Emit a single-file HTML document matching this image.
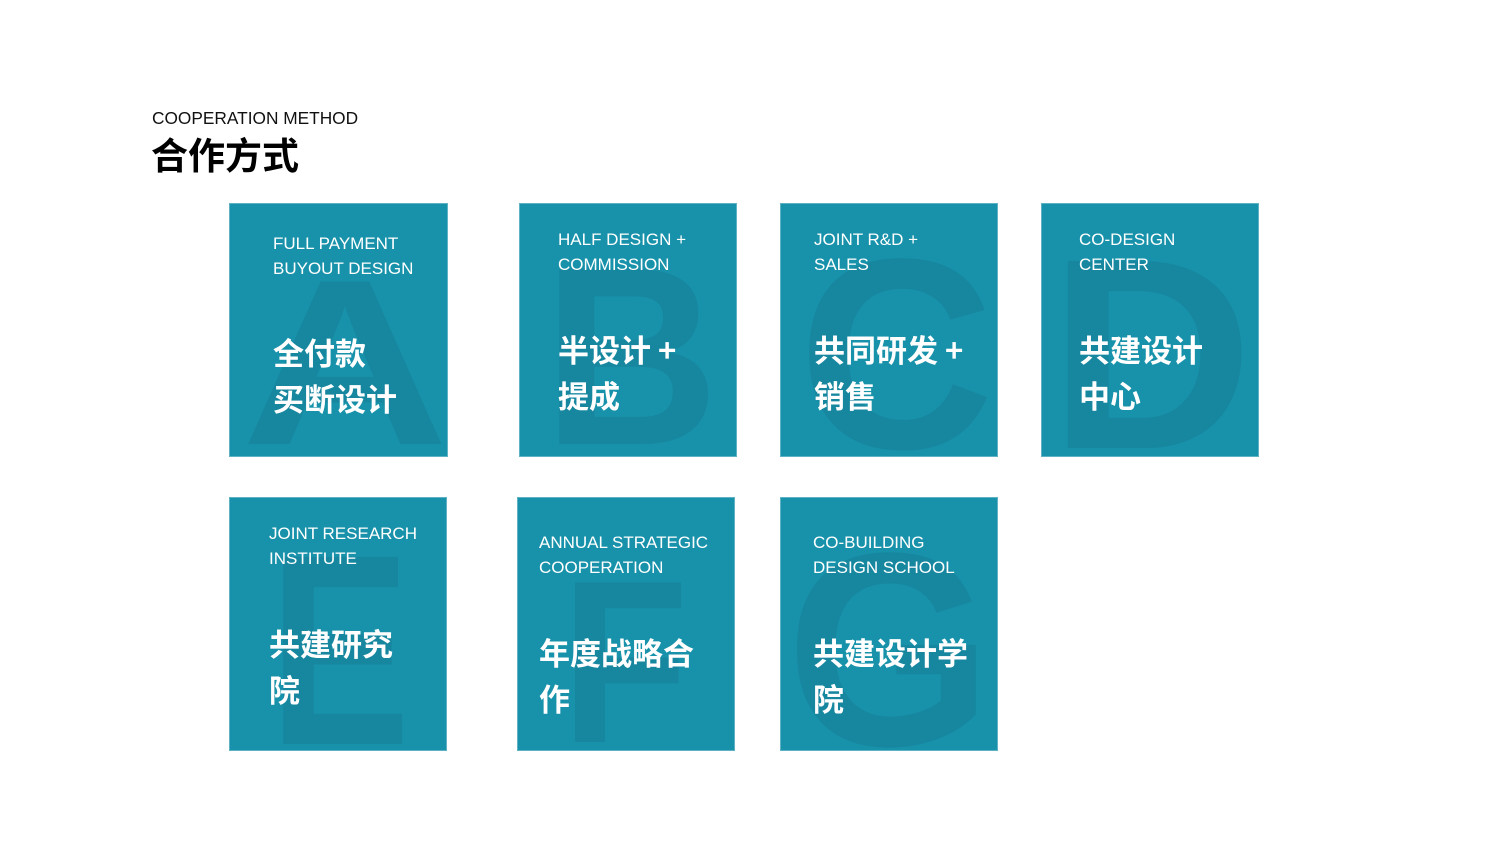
<!DOCTYPE html>
<html><head><meta charset="utf-8"><style>
body{margin:0;width:1512px;height:850px;background:#fff;position:relative;overflow:hidden;font-family:"Liberation Sans","Noto Sans CJK SC",sans-serif}
.t1{position:absolute;left:152px;top:108px;font-size:17.3px;color:#111;letter-spacing:0}
.t2{position:absolute;left:151px;top:128px;font-size:37px;font-weight:bold;color:#000;font-family:"Noto Sans CJK SC",sans-serif;line-height:50px}
.b{position:absolute;background:#1892aa;overflow:hidden;width:219px;height:254px;box-shadow:inset 0 0 0 1px #5fb2c4}
.L{position:absolute;font-weight:bold;color:rgba(20,60,90,0.13);line-height:1;font-family:"Liberation Sans",sans-serif;transform-origin:0 0}
.en{position:absolute;color:#fff;font-size:17px;line-height:25px;white-space:nowrap}
.cn{position:absolute;color:#fff;font-size:31px;line-height:46px;font-weight:bold;font-family:"Noto Sans CJK SC",sans-serif;white-space:nowrap}
</style></head><body>
<div class="t1">COOPERATION METHOD</div>
<div class="t2">合作方式</div>

<div class="b" style="left:229px;top:203px">
<div class="L" style="left:12px;top:42px;font-size:236px;transform:scaleX(1.22)">A</div>
<div class="en" style="left:44px;top:28px">FULL PAYMENT<br>BUYOUT DESIGN</div>
<div class="cn" style="left:44px;top:126px">全付款<br>买断设计</div>
</div>

<div class="b" style="left:519px;top:203px;width:218px">
<div class="L" style="left:24px;top:26px;font-size:254px;transform:scaleX(0.96)">B</div>
<div class="en" style="left:39px;top:24px">HALF DESIGN +<br>COMMISSION</div>
<div class="cn" style="left:39px;top:123px">半设计 +<br>提成</div>
</div>

<div class="b" style="left:780px;top:203px;width:218px">
<div class="L" style="left:18px;top:15px;font-size:272px">C</div>
<div class="en" style="left:34px;top:24px">JOINT R&amp;D +<br>SALES</div>
<div class="cn" style="left:34px;top:123px">共同研发 +<br>销售</div>
</div>

<div class="b" style="left:1041px;top:203px;width:218px">
<div class="L" style="left:8px;top:15px;font-size:272px;transform:scaleX(1.04)">D</div>
<div class="en" style="left:38px;top:24px">CO-DESIGN<br>CENTER</div>
<div class="cn" style="left:38px;top:123px">共建设计<br>中心</div>
</div>

<div class="b" style="left:229px;top:497px;width:218px">
<div class="L" style="left:40px;top:17px;font-size:272px;transform:scaleX(0.78)">E</div>
<div class="en" style="left:40px;top:24px">JOINT RESEARCH<br>INSTITUTE</div>
<div class="cn" style="left:40px;top:123px">共建研究<br>院</div>
</div>

<div class="b" style="left:517px;top:497px;width:218px">
<div class="L" style="left:44px;top:50px;font-size:232px;transform:scaleX(0.9)">F</div>
<div class="en" style="left:22px;top:33px">ANNUAL STRATEGIC<br>COOPERATION</div>
<div class="cn" style="left:22px;top:132px">年度战略合<br>作</div>
</div>

<div class="b" style="left:780px;top:497px;width:218px">
<div class="L" style="left:6px;top:15px;font-size:276px;transform:scaleX(0.96)">G</div>
<div class="en" style="left:33px;top:33px">CO-BUILDING<br>DESIGN SCHOOL</div>
<div class="cn" style="left:33px;top:132px">共建设计学<br>院</div>
</div>
</body></html>
